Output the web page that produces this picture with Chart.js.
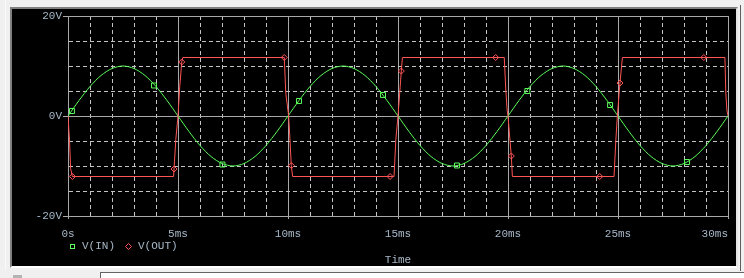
<!DOCTYPE html>
<html>
<head>
<meta charset="utf-8">
<script src="https://cdn.jsdelivr.net/npm/chart.js@4.4.0/dist/chart.umd.min.js"></script>
<style>
html, body { margin: 0; padding: 0; width: 744px; height: 278px; overflow: hidden; background: #f0f0f0; }
#frame { position: absolute; left: 10px; top: 7px; width: 724px; height: 257px; background: #000;
  border: 2px solid; border-color: #808080 #e4e4e4 #ffffff #808080; }
#edge { position: absolute; left: 740px; top: 5px; width: 1px; height: 266px; background: #606060; }
#status { position: absolute; left: 100px; top: 272px; width: 644px; height: 6px; background: #fff;
  border-top: 1px solid #646464; border-left: 1px solid #646464; }
#stub { position: absolute; left: 13px; top: 275px; width: 9px; height: 3px; background: #b4b4b4; }
#side { position: absolute; left: 5px; top: 0; width: 1px; height: 270px; background: #fafafa; }
canvas { position: absolute; left: 0; top: 0; }
</style>
</head>
<body>
<div id="side"></div>
<div id="frame"></div>
<div id="edge"></div>
<div id="status"></div>
<div id="stub"></div>
<canvas id="plot" width="744" height="278"></canvas>
<script>
// V(IN): sine input, read every 0.5 ms
var timeIn = [0, 0.5, 1, 1.5, 2, 2.5, 3, 3.5, 4, 4.5, 5, 5.5, 6, 6.5, 7, 7.5, 8, 8.5, 9, 9.5,
  10, 10.5, 11, 11.5, 12, 12.5, 13, 13.5, 14, 14.5, 15, 15.5, 16, 16.5, 17, 17.5, 18, 18.5, 19, 19.5,
  20, 20.5, 21, 21.5, 22, 22.5, 23, 23.5, 24, 24.5, 25, 25.5, 26, 26.5, 27, 27.5, 28, 28.5, 29, 29.5, 30];
var vIn = [0, 3.1, 5.9, 8.1, 9.5, 10, 9.5, 8.1, 5.9, 3.1, 0, -3.1, -5.9, -8.1, -9.5, -10, -9.5, -8.1, -5.9, -3.1,
  0, 3.1, 5.9, 8.1, 9.5, 10, 9.5, 8.1, 5.9, 3.1, 0, -3.1, -5.9, -8.1, -9.5, -10, -9.5, -8.1, -5.9, -3.1,
  0, 3.1, 5.9, 8.1, 9.5, 10, 9.5, 8.1, 5.9, 3.1, 0, -3.1, -5.9, -8.1, -9.5, -10, -9.5, -8.1, -5.9, -3.1, 0];

// V(OUT): clipped square output
var timeOut = [0, 0.07, 0.12, 0.2, 4.8, 4.82, 4.9, 5.0, 5.08, 5.17, 5.22,
  9.8, 9.83, 9.9, 10.03, 10.09, 10.15, 10.21, 14.82, 14.9, 15.0, 15.1, 15.15, 15.2,
  19.83, 19.9, 19.96, 20.0, 20.09, 20.15, 20.2, 24.82, 24.9, 24.97, 25.09, 25.2,
  29.86, 29.9, 29.95, 30];
var vOut = [0, -5, -10.5, -12.1, -12.1, -10.6, -4.7, 0, 5.9, 10.8, 11.7,
  11.7, 11.7, 4.5, 0, -4.8, -9.9, -12.1, -12.1, -4.8, 0, 5.9, 9.0, 11.7,
  11.7, 5.2, 1.2, 0, -4.8, -8.0, -12.1, -12.1, -5, 0, 6.6, 11.7,
  11.7, 4.6, 1.2, 0];

// trace markers
var inMarkT = [0.18, 3.91, 7.02, 10.5, 14.32, 17.68, 20.88, 24.64, 28.14];
var inMarkV = [1.0, 6.1, -9.7, 3.0, 4.2, -9.9, 5.0, 2.2, -9.2];
var outMarkT = [0.2, 4.82, 5.17, 9.83, 10.15, 14.64, 15.15, 19.44, 20.15, 24.17, 25.09, 28.9];
var outMarkV = [-12.1, -10.6, 10.8, 11.7, -9.9, -12.1, 9.0, 11.7, -8.0, -12.1, 6.6, 11.7];

var xTicks = [0, 5, 10, 15, 20, 25, 30];
var xTickLabels = ['0s', '5ms', '10ms', '15ms', '20ms', '25ms', '30ms    '];
var yTicks = [-20, 0, 20];
var yTickLabels = ['-20V', '0V', '20V'];
var seriesNames = ['V(IN)', 'V(OUT)'];

var inColor = '#5cff5c';
var outColor = '#ff5555';
var textColor = '#a8b8c8';
var solidGrid = '#a8a8a8';
var dashGrid = '#c4c4c4';
var fontFamily = "'Liberation Mono', 'DejaVu Sans Mono', monospace";

function pts(xs, ys) {
  var out = [];
  for (var i = 0; i < xs.length; i++) out.push({x: xs[i], y: ys[i]});
  return out;
}

var legendPlugin = {
  id: 'traceLegend',
  afterDraw: function(chart) {
    var ctx = chart.ctx;
    var a = chart.chartArea;
    var y = a.bottom + 30.5;
    ctx.save();
    ctx.lineWidth = 1;
    ctx.font = '11px ' + fontFamily;
    ctx.textBaseline = 'middle';
    ctx.fillStyle = textColor;
    ctx.strokeStyle = inColor;
    ctx.strokeRect(a.left + 2.5, y - 2, 4, 4);
    ctx.fillText(seriesNames[0], a.left + 14, y);
    ctx.strokeStyle = outColor;
    ctx.beginPath();
    ctx.moveTo(a.left + 60.5, y - 3);
    ctx.lineTo(a.left + 63.5, y);
    ctx.lineTo(a.left + 60.5, y + 3);
    ctx.lineTo(a.left + 57.5, y);
    ctx.closePath();
    ctx.stroke();
    ctx.fillText(seriesNames[1], a.left + 70, y);
    ctx.restore();
  }
};

new Chart(document.getElementById('plot'), {
  type: 'line',
  data: {
    datasets: [
      { label: seriesNames[0], data: pts(timeIn, vIn), borderColor: inColor, borderWidth: 1,
        pointRadius: 0, tension: 0.3, order: 4 },
      { label: seriesNames[1], data: pts(timeOut, vOut), borderColor: outColor, borderWidth: 1,
        pointRadius: 0, tension: 0, order: 3 },
      { label: seriesNames[0], data: pts(inMarkT, inMarkV), showLine: false, pointStyle: 'rect',
        pointRadius: 3.5, pointBorderWidth: 1, pointBorderColor: inColor, pointBackgroundColor: 'rgba(0,0,0,0)', order: 2 },
      { label: seriesNames[1], data: pts(outMarkT, outMarkV), showLine: false, pointStyle: 'rectRot',
        pointRadius: 3, pointBorderWidth: 1, pointBorderColor: outColor, pointBackgroundColor: 'rgba(0,0,0,0)', order: 1 }
    ]
  },
  options: {
    responsive: false,
    animation: false,
    events: [],
    layout: { padding: { top: 16, right: 16, left: 0, bottom: 0 } },
    plugins: { legend: { display: false }, tooltip: { enabled: false } },
    scales: {
      x: {
        type: 'linear', min: 0, max: 30,
        afterFit: function(s) { s.height = 62; s.paddingLeft = 0; s.paddingRight = 0; },
        ticks: {
          stepSize: 1, autoSkip: false, maxRotation: 0, padding: 8, color: textColor,
          font: { family: fontFamily, size: 11 },
          callback: function(v) { var i = xTicks.indexOf(v); return i < 0 ? '' : xTickLabels[i]; }
        },
        grid: {
          lineWidth: 1, tickLength: 3,
          color: function(c) { return c.tick && c.tick.value % 5 === 0 ? solidGrid : dashGrid; },
          tickColor: function(c) { return c.tick && c.tick.value % 5 === 0 ? solidGrid : 'rgba(0,0,0,0)'; }
        },
        border: { display: true, color: solidGrid,
          dash: function(c) { return c.tick && c.tick.value % 5 !== 0 ? [4, 3] : []; } },
        title: { display: true, text: 'Time', color: textColor, font: { family: fontFamily, size: 11 },
          padding: { top: 0, bottom: 11 } }
      },
      y: {
        min: -20, max: 20,
        afterFit: function(s) { s.width = 68; s.paddingTop = 0; s.paddingBottom = 0; },
        ticks: {
          stepSize: 5, autoSkip: false, padding: 1, color: textColor,
          font: { family: fontFamily, size: 11 },
          callback: function(v) { var i = yTicks.indexOf(v); return i < 0 ? '' : yTickLabels[i]; }
        },
        grid: {
          lineWidth: 1, tickLength: 5,
          color: function(c) { return c.tick && c.tick.value % 20 === 0 ? solidGrid : dashGrid; },
          tickColor: function(c) { return c.tick && c.tick.value % 20 === 0 ? solidGrid : 'rgba(0,0,0,0)'; }
        },
        border: { display: true, color: solidGrid,
          dash: function(c) { return c.tick && c.tick.value % 20 !== 0 ? [4, 3] : []; } }
      }
    }
  },
  plugins: [legendPlugin]
});
</script>
</body>
</html>
